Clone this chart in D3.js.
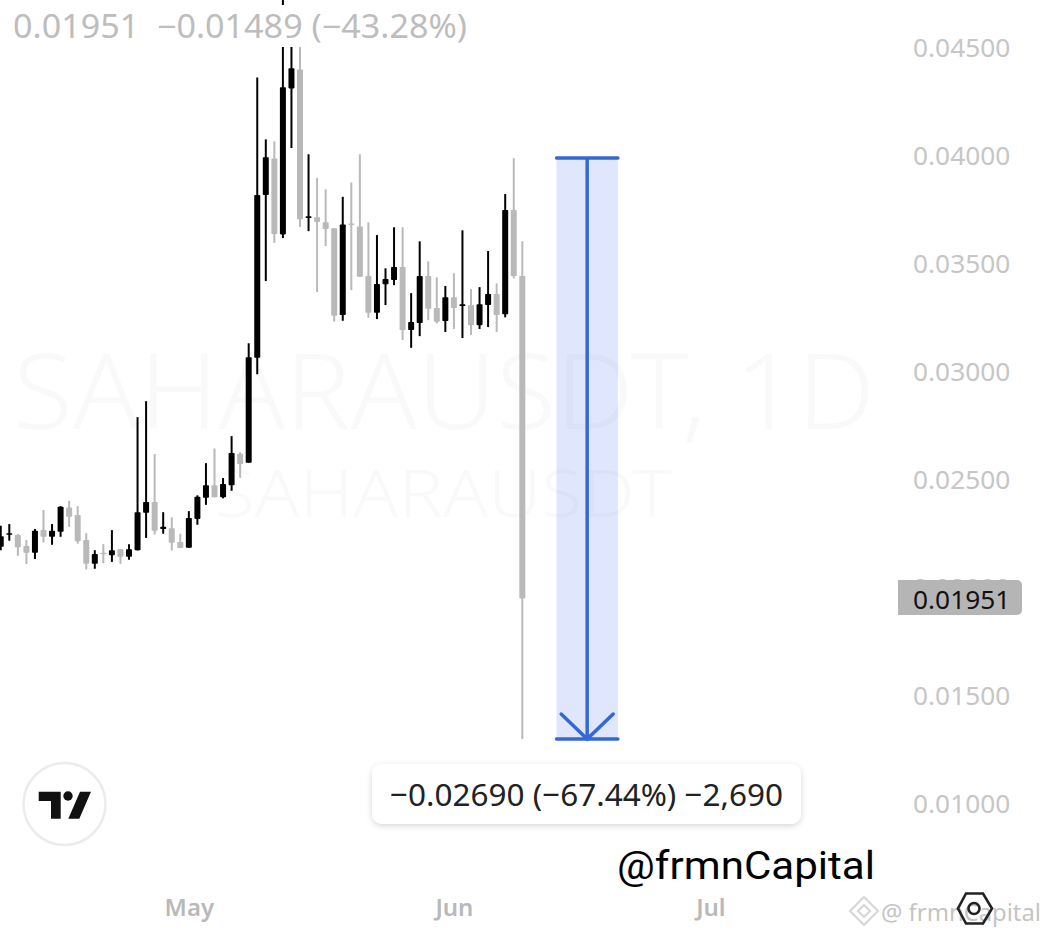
<!DOCTYPE html>
<html>
<head>
<meta charset="utf-8">
<script src="https://cdn.jsdelivr.net/npm/d3@7"></script>
<style>
  html, body { margin: 0; padding: 0; background: #fff; }
  svg { display: block; font-family: "Noto Sans", sans-serif; }
</style>
</head>
<body>
<div id="chart"></div>
<script>
// Daily candles, first one is 9 Apr
const firstDay = "2025-04-09";
const opens = [0.02191,0.02246,0.02245,0.02194,0.02163,0.02268,0.02237,0.02260,0.02373,0.02338,0.02222,0.02112,0.02163,0.02152,0.02179,0.02145,0.02175,0.02348,0.02398,0.02273,0.02277,0.02213,0.02186,0.02320,0.02418,0.02476,0.02420,0.02476,0.02621,0.02580,0.03066,0.03819,0.03989,0.03637,0.04313,0.04401,0.03713,0.03716,0.03693,0.03665,0.03264,0.03688,0.03674,0.03444,0.03274,0.03406,0.03426,0.03486,0.03194,0.03227,0.03444,0.03296,0.03236,0.03346,0.03305,0.03310,0.03217,0.03310,0.03361,0.03267,0.03750,0.03444];
const highs = [0.02288,0.02296,0.02250,0.02222,0.02273,0.02361,0.02296,0.02379,0.02404,0.02379,0.02254,0.02175,0.02203,0.02268,0.02180,0.02203,0.02791,0.02865,0.02620,0.02351,0.02327,0.02251,0.02356,0.02429,0.02578,0.02646,0.02509,0.02703,0.02629,0.03133,0.04364,0.04077,0.04068,0.04722,0.04606,0.04583,0.04008,0.03899,0.03846,0.03665,0.03811,0.03878,0.04008,0.03693,0.03634,0.03480,0.03670,0.03670,0.03365,0.03605,0.03512,0.03438,0.03398,0.03457,0.03656,0.03384,0.03393,0.03560,0.03410,0.03824,0.03990,0.03605];
const lows = [0.02175,0.02219,0.02149,0.02111,0.02134,0.02211,0.02200,0.02237,0.02283,0.02205,0.02086,0.02089,0.02114,0.02121,0.02112,0.02131,0.02174,0.02232,0.02248,0.02251,0.02174,0.02184,0.02186,0.02293,0.02385,0.02420,0.02415,0.02450,0.02510,0.02580,0.02990,0.03421,0.03598,0.03620,0.04037,0.03671,0.03652,0.03370,0.03583,0.03233,0.03237,0.03379,0.03441,0.03251,0.03245,0.03310,0.03402,0.03148,0.03112,0.03166,0.03240,0.03225,0.03185,0.03199,0.03157,0.03171,0.03199,0.03208,0.03185,0.03253,0.03433,0.01301];
const closes = [0.02240,0.02254,0.02189,0.02163,0.02265,0.02237,0.02265,0.02376,0.02330,0.02217,0.02112,0.02157,0.02156,0.02175,0.02145,0.02179,0.02351,0.02398,0.02265,0.02283,0.02209,0.02185,0.02324,0.02422,0.02476,0.02420,0.02481,0.02625,0.02574,0.03068,0.03819,0.03994,0.03639,0.04318,0.04406,0.03707,0.03721,0.03694,0.03662,0.03260,0.03683,0.03680,0.03441,0.03274,0.03407,0.03430,0.03486,0.03194,0.03231,0.03444,0.03293,0.03233,0.03346,0.03296,0.03314,0.03217,0.03314,0.03361,0.03264,0.03750,0.03444,0.01951];

const priceTicks = [0.01, 0.015, 0.02, 0.025, 0.03, 0.035, 0.04, 0.045];
const monthTicks = ["2025-05-01", "2025-06-01", "2025-07-01"];
const lastPrice = 0.01951;
const headerText = "0.01951  \u22120.01489 (\u221243.28%)";
const measureFrom = 0.03991;
const measureTo = 0.01301;
const measureStart = "2025-06-13";
const measureEnd = "2025-06-20";
const measureText = "\u22120.02690 (\u221267.44%) \u22122,690";

const width = 1048, height = 936;
const black = "#000", gray = "#b9b9b9", blue = "#3567d6";

const parse = d3.utcParse("%Y-%m-%d");
const day0 = parse(firstDay);
const candles = opens.map((o, i) => ({
  date: d3.utcDay.offset(day0, i), o, h: highs[i], l: lows[i], c: closes[i],
  up: closes[i] > opens[i]
}));

const x = d3.scaleUtc()
  .domain([day0, d3.utcDay.offset(day0, 61)])
  .range([0.75, 522.3]);
const y = d3.scaleLinear().domain([0.01, 0.045]).range([804, 48]);

const svg = d3.select("#chart").append("svg")
  .attr("width", width).attr("height", height);

svg.append("rect").attr("width", width).attr("height", height).attr("fill", "#fff");

// watermark behind everything
svg.append("text").attr("x", 13).attr("y", 429)
  .attr("font-size", 104).attr("font-weight", 300).attr("fill", "#f9f9f9")
  .attr("textLength", 862).attr("lengthAdjust", "spacingAndGlyphs")
  .text("SAHARAUSDT, 1D");
svg.append("text").attr("x", 214).attr("y", 517)
  .attr("font-size", 66).attr("font-weight", 300).attr("fill", "#f9f9f9")
  .attr("textLength", 458).attr("lengthAdjust", "spacingAndGlyphs")
  .text("SAHARAUSDT");

// measure tool
const mx0 = x(parse(measureStart)), mx1 = x(parse(measureEnd)) + 1.5;
const mMid = (mx0 + mx1) / 2;
const measure = svg.append("g");
measure.append("rect")
  .attr("x", mx0).attr("y", y(measureFrom))
  .attr("width", mx1 - mx0).attr("height", y(measureTo) - y(measureFrom))
  .attr("fill", "#2f5ff0").attr("fill-opacity", 0.15);
measure.selectAll("line.cap").data([measureFrom, measureTo]).enter().append("line")
  .attr("class", "cap")
  .attr("x1", mx0).attr("x2", mx1)
  .attr("y1", d => y(d)).attr("y2", d => y(d))
  .attr("stroke", blue).attr("stroke-width", 3.5).attr("stroke-linecap", "round");
measure.append("line")
  .attr("x1", mMid).attr("x2", mMid)
  .attr("y1", y(measureFrom)).attr("y2", y(measureTo))
  .attr("stroke", blue).attr("stroke-width", 3.5);
measure.append("path")
  .attr("d", `M${mMid - 26},${y(measureTo) - 25}L${mMid},${y(measureTo)}L${mMid + 26},${y(measureTo) - 25}`)
  .attr("fill", "none").attr("stroke", blue).attr("stroke-width", 3.5).attr("stroke-linecap", "round");

// candles
const candle = svg.append("g").selectAll("g").data(candles).enter().append("g")
  .attr("fill", d => d.up ? black : gray)
  .attr("stroke", d => d.up ? black : gray);
candle.append("line")
  .attr("x1", d => x(d.date)).attr("x2", d => x(d.date))
  .attr("y1", d => y(d.h)).attr("y2", d => y(d.l))
  .attr("stroke-width", 2);
candle.append("rect")
  .attr("x", d => x(d.date) - 3).attr("width", 6)
  .attr("y", d => y(Math.max(d.o, d.c)))
  .attr("height", d => Math.max(1.5, Math.abs(y(d.o) - y(d.c))))
  .attr("rx", 0.8)
  .attr("stroke", "none");

// header sits on a white strip, it cuts the wicks of the top candles
svg.append("rect").attr("x", 8).attr("y", 5).attr("width", 465).attr("height", 42).attr("fill", "#fff");
svg.append("text").attr("x", 13).attr("y", 38)
  .attr("font-size", 32).attr("fill", "#bdbdbd")
  .attr("textLength", 454).attr("lengthAdjust", "spacingAndGlyphs")
  .style("white-space", "pre")
  .text(headerText);

// axes
const yAxis = d3.axisRight(y).tickValues(priceTicks).tickFormat(d3.format(".5f")).tickSize(0).tickPadding(0);
const yG = svg.append("g").attr("transform", "translate(913,0)").call(yAxis);
yG.select(".domain").remove();
yG.selectAll("text").attr("font-size", 26.3).attr("fill", "#c6c6c6")
  .attr("font-family", '"Noto Sans", sans-serif');

const xAxis = d3.axisBottom(x).tickValues(monthTicks.map(parse)).tickFormat(d3.utcFormat("%b")).tickSize(0).tickPadding(0);
const xG = svg.append("g").attr("transform", "translate(0,899)").call(xAxis);
xG.select(".domain").remove();
xG.selectAll("text").attr("font-size", 24).attr("font-weight", 600).attr("fill", "#b9b9b9")
  .attr("font-family", '"Noto Sans", sans-serif');

// last price tag
svg.append("path")
  .attr("d", "M898,580H1017a5,5 0 0 1 5,5V610a5,5 0 0 1 -5,5H898Z")
  .attr("fill", "#b5b5b5");
svg.append("text").attr("x", 913).attr("y", y(lastPrice) + 10)
  .attr("font-size", 26.3).attr("fill", "#111")
  .text(d3.format(".5f")(lastPrice));

// measure label
const defs = svg.append("defs");
const shadow = defs.append("filter").attr("id", "soft")
  .attr("x", "-5%").attr("y", "-20%").attr("width", "110%").attr("height", "140%");
shadow.append("feDropShadow").attr("dx", 0).attr("dy", 2).attr("stdDeviation", 3)
  .attr("flood-color", "#000").attr("flood-opacity", 0.16);
svg.append("rect").attr("x", 372).attr("y", 764).attr("width", 429).attr("height", 60).attr("rx", 10)
  .attr("fill", "#fff").attr("filter", "url(#soft)");
svg.append("text").attr("x", 586.5).attr("y", 806).attr("text-anchor", "middle")
  .attr("font-size", 31.5).attr("fill", "#222")
  .text(measureText);

// TradingView badge
const logo = svg.append("g");
logo.append("circle").attr("cx", 64.5).attr("cy", 804).attr("r", 41)
  .attr("fill", "#fff").attr("stroke", "#ececec").attr("stroke-width", 2.5);
logo.append("path")
  .attr("d", "M38.7,791.7H60.7V818.7H51V801H38.7ZM80,791.7H91L79.3,818.7H68.3Z")
  .attr("fill", "#111");
logo.append("circle").attr("cx", 68).attr("cy", 796).attr("r", 4.7).attr("fill", "#111");

// handle and site watermark
svg.append("text").attr("x", 617).attr("y", 879)
  .attr("font-size", 39).attr("fill", "#000").attr("font-family", "Roboto, sans-serif")
  .attr("textLength", 258).attr("lengthAdjust", "spacingAndGlyphs")
  .text("@frmnCapital");

const mark = svg.append("g").attr("fill", "none").attr("stroke", "#d6d6d6").attr("stroke-width", 2);
mark.append("path").attr("d", "M864,897L878,911L864,925L850,911Z");
mark.append("path").attr("d", "M864,905L870,911L864,917L858,911Z");
svg.append("text").attr("x", 881).attr("y", 921)
  .attr("font-size", 24).attr("fill", "#c4c4c4")
  .attr("textLength", 160).attr("lengthAdjust", "spacingAndGlyphs")
  .text("@ frmnCapital");

const hex = svg.append("g").attr("fill", "none").attr("stroke", "#222").attr("stroke-width", 2.6);
hex.append("path").attr("d", "M966,893.5H983L992,908.5L983,923.5H966L958,908.5Z");
hex.append("circle").attr("cx", 974).attr("cy", 908.5).attr("r", 5.5);
</script>
</body>
</html>
